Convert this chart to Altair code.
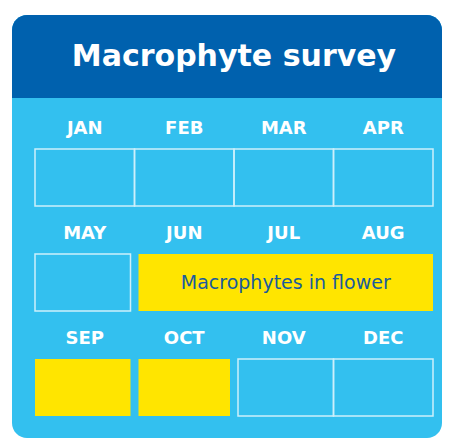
import altair as alt
import pandas as pd

# ---- data ----
months = ["JAN", "FEB", "MAR", "APR", "MAY", "JUN", "JUL", "AUG", "SEP", "OCT", "NOV", "DEC"]
flower_spans = [("JUN", "AUG", "Macrophytes in flower"), ("SEP", "SEP", ""), ("OCT", "OCT", "")]
title_text = "Macrophyte survey"

# ---- layout constants (pixels) ----
W, H = 434, 430
COLS = 4
LEFT, COL_W = 27, 99.5
TOP, ROW_H = 141, 105
BOX_H = 57 / ROW_H
LABEL_OFF = 20 / ROW_H
HALF_GAP = 4 / COL_W

DARK = "#0061AE"
LIGHT = "#33C0EF"
YELLOW = "#FFE500"
TEXT_DARK = "#1A5C9E"
OUTLINE = "#CDEFFB"

flower_idx = set()
for s, e, _ in flower_spans:
    for i in range(months.index(s), months.index(e) + 1):
        flower_idx.add(i)

cells = []
for s, e, lab in flower_spans:
    a, b = months.index(s), months.index(e)
    cells.append(dict(row=a // COLS, c0=a % COLS, c1=b % COLS + 1, kind="flower", label=lab))
for i, m in enumerate(months):
    if i not in flower_idx:
        cells.append(dict(row=i // COLS, c0=i % COLS, c1=i % COLS + 1, kind="empty", label=""))

def is_flower(row, col):
    return (row * COLS + col) in flower_idx

for c in cells:
    left = c["c0"]
    right = c["c1"]
    if left > 0 and (c["kind"] == "flower" or is_flower(c["row"], left - 1)):
        left += HALF_GAP
    if right < COLS and (c["kind"] == "flower" or is_flower(c["row"], right)):
        right -= HALF_GAP
    c["x0"] = left
    c["x1"] = right
    c["xm"] = (left + right) / 2
    c["y0"] = c["row"]
    c["y1"] = c["row"] + BOX_H
    c["ym"] = c["row"] + BOX_H / 2

cells_df = pd.DataFrame(cells)
labels_df = pd.DataFrame({
    "month": months,
    "x": [i % COLS + 0.5 for i in range(len(months))],
    "y": [i // COLS - LABEL_OFF for i in range(len(months))],
})

xs = alt.Scale(domain=[-LEFT / COL_W, (W - LEFT) / COL_W], nice=False, zero=False)
ys = alt.Scale(domain=[-TOP / ROW_H, (H - TOP) / ROW_H], nice=False, zero=False, reverse=True)

one = pd.DataFrame({"a": [0]})

card = alt.Chart(one).mark_rect(fill=LIGHT, cornerRadius=15).encode(
    x=alt.value(4), x2=alt.value(W), y=alt.value(7), y2=alt.value(H)
)
header = alt.Chart(one).mark_rect(
    fill=DARK, cornerRadiusTopLeft=15, cornerRadiusTopRight=15
).encode(x=alt.value(4), x2=alt.value(W), y=alt.value(7), y2=alt.value(90))

title = alt.Chart(pd.DataFrame({"t": [title_text], "x": [2.0]})).mark_text(
    font="DejaVu Sans", fontSize=30, fontWeight="bold", color="white", baseline="middle"
).encode(x=alt.X("x:Q", scale=xs, axis=None), y=alt.value(49), text="t:N")

empty_boxes = alt.Chart(cells_df[cells_df["kind"] == "empty"]).mark_rect(
    fillOpacity=0, stroke=OUTLINE, strokeWidth=1.5
).encode(
    x=alt.X("x0:Q", scale=xs, axis=None), x2="x1:Q",
    y=alt.Y("y0:Q", scale=ys, axis=None), y2="y1:Q",
)
flower_boxes = alt.Chart(cells_df[cells_df["kind"] == "flower"]).mark_rect(
    fill=YELLOW, strokeWidth=0
).encode(
    x=alt.X("x0:Q", scale=xs, axis=None), x2="x1:Q",
    y=alt.Y("y0:Q", scale=ys, axis=None), y2="y1:Q",
)
flower_text = alt.Chart(cells_df[cells_df["label"] != ""]).mark_text(
    font="DejaVu Sans", fontSize=19, color=TEXT_DARK, baseline="middle"
).encode(
    x=alt.X("xm:Q", scale=xs, axis=None),
    y=alt.Y("ym:Q", scale=ys, axis=None),
    text="label:N",
)
month_labels = alt.Chart(labels_df).mark_text(
    font="DejaVu Sans", fontSize=18, fontWeight="bold", color="white", baseline="middle"
).encode(
    x=alt.X("x:Q", scale=xs, axis=None),
    y=alt.Y("y:Q", scale=ys, axis=None),
    text="month:N",
)

chart = alt.layer(
    card, header, title, empty_boxes, flower_boxes, flower_text, month_labels
).properties(width=W, height=H, padding=0, background="white").configure_view(strokeWidth=0)

chart.save("out.html", embed_options={"renderer": "svg", "actions": False})
